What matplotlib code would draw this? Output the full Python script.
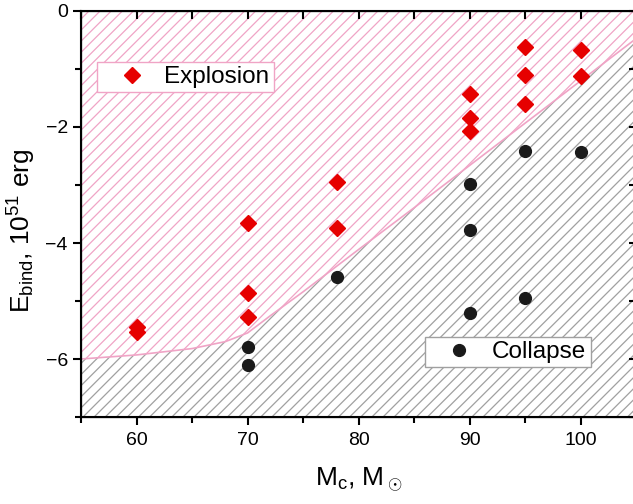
import matplotlib
matplotlib.use("Agg")
import matplotlib.pyplot as plt
from matplotlib.ticker import MultipleLocator
from matplotlib.lines import Line2D

plt.rcParams['font.family'] = ['Liberation Sans', 'DejaVu Sans']
plt.rcParams['mathtext.fontset'] = 'custom'
plt.rcParams['mathtext.rm'] = 'Liberation Sans'
plt.rcParams['mathtext.it'] = 'Liberation Sans:italic'
plt.rcParams['hatch.linewidth'] = 0.9

# explosion points (red diamonds)
expl_m = [60, 60, 70, 70, 70, 78, 78, 90, 90, 90, 95, 95, 95, 100, 100]
expl_e = [-5.45, -5.53, -3.66, -4.87, -5.27, -2.95, -3.75, -1.43, -1.85, -2.07,
          -0.62, -1.10, -1.60, -0.67, -1.12]

# collapse points (black circles)
coll_m = [70, 70, 78, 90, 90, 90, 95, 95, 100]
coll_e = [-5.79, -6.11, -4.58, -2.99, -3.78, -5.20, -2.42, -4.94, -2.43]

# boundary between the two regions
bound_m = [55, 60, 65, 68, 70, 72, 75, 80, 85, 90, 95, 100, 105]
bound_e = [-6.0, -5.93, -5.82, -5.70, -5.55, -5.26, -4.84, -4.11, -3.39, -2.66, -1.93, -1.20, -0.47]

pink = '#f0a4c6'
grey = '#a0a0a0'

fig = plt.figure(figsize=(6.33, 5.04), dpi=100)
ax = fig.add_axes([81 / 633, 87 / 504, 555.5 / 633, 406 / 504])

ax.fill_between(bound_m, bound_e, 0, facecolor='white', edgecolor=pink,
                hatch='///', linewidth=0, zorder=1)
ax.fill_between(bound_m, -7, bound_e, facecolor='white', edgecolor=grey,
                hatch='///', linewidth=0, zorder=1)
ax.plot(bound_m, bound_e, color=pink, lw=1.2, zorder=2)

ax.plot(expl_m, expl_e, 'D', color='#e60000', ms=8, mec='#e60000', ls='none', zorder=3)
ax.plot(coll_m, coll_e, 'o', color='#1a1a1a', ms=8.5, ls='none', zorder=3)

ax.set_xlim(55, 105)
ax.set_ylim(-7, 0)
ax.xaxis.set_major_locator(MultipleLocator(10))
ax.xaxis.set_minor_locator(MultipleLocator(5))
ax.yaxis.set_major_locator(MultipleLocator(2))
ax.yaxis.set_minor_locator(MultipleLocator(1))

for s in ax.spines.values():
    s.set_linewidth(1.5)
ax.tick_params(which='both', direction='out', top=False, right=False,
               width=1.5, labelsize=14)
ax.tick_params(which='major', length=6)
ax.tick_params(which='minor', length=4)
ax.tick_params(axis='x', pad=5)

# inward ticks on top and right (Origin style)
ax2 = ax.twiny()
ax2.set_xlim(ax.get_xlim())
ax2.xaxis.set_major_locator(MultipleLocator(5))
ax2.tick_params(direction='in', length=6, width=1.5, labeltop=False)
ax3 = ax.twinx()
ax3.set_ylim(ax.get_ylim())
ax3.yaxis.set_major_locator(MultipleLocator(1))
ax3.tick_params(direction='in', length=6, width=1.5, labelright=False)

ax.set_xlabel(r'M$_\mathrm{c}$, M$_\odot$', fontsize=19, labelpad=12)
ax.set_ylabel(r'E$_\mathrm{bind}$, 10$^{51}$ erg', fontsize=19, labelpad=5)
ax.yaxis.label.set_y(0.46)

h1 = Line2D([], [], marker='D', color='#e60000', ls='none', ms=8)
h2 = Line2D([], [], marker='o', color='#1a1a1a', ls='none', ms=8.5)
leg1 = ax3.legend([h1], ['Explosion'], loc='upper left', bbox_to_anchor=(0.029, 0.874),
                  borderaxespad=0, fancybox=False, framealpha=1, edgecolor=pink,
                  fontsize=17.5, handlelength=2.5, handletextpad=0.1, borderpad=0.17)
ax3.add_artist(leg1)
ax3.legend([h2], ['Collapse'], loc='upper left', bbox_to_anchor=(0.619, 0.197),
           borderaxespad=0, fancybox=False, framealpha=1, edgecolor=grey,
           fontsize=17.5, handlelength=2.5, handletextpad=0.1, borderpad=0.17)

fig.savefig('out.png', dpi=100)
